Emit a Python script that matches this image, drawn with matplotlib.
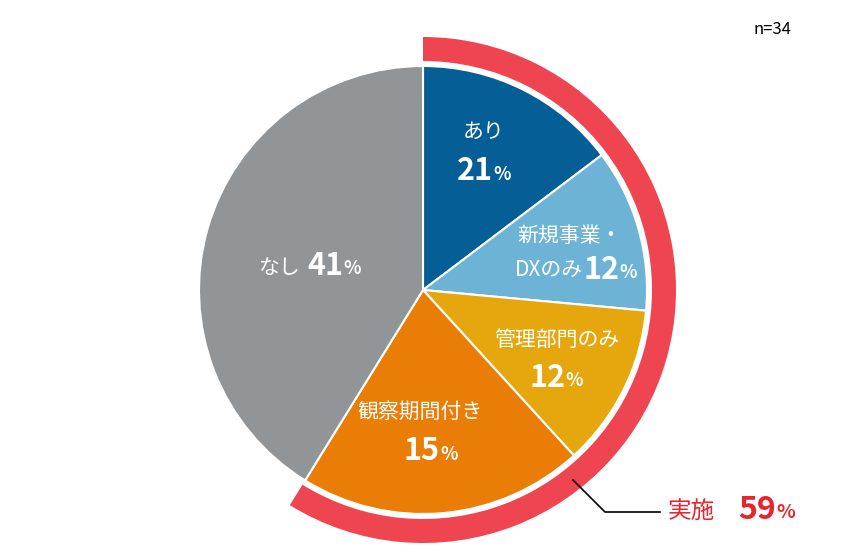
import matplotlib.pyplot as plt
from matplotlib.patches import Wedge

plt.rcParams['font.family'] = 'Noto Sans CJK JP'

categories = ['あり', '新規事業・DXのみ', '管理部門のみ', '観察期間付き', 'なし']
slice_sizes = [5, 4, 4, 7, 14]  # slice areas as drawn in the reference
percents = [21, 12, 12, 15, 41]
colors = ['#065E96', '#6DB3D6', '#E5A70D', '#E97D06', '#919598']
implemented_pct = 59
n_total = 34

W, H = 846, 560
fig = plt.figure(figsize=(W / 100, H / 100), dpi=100)
ax = fig.add_axes([0, 0, 1, 1])

cx, cy, r = 423, H - 290, 224
ax.pie(slice_sizes, colors=colors, startangle=90, counterclock=False,
       center=(cx, cy), radius=r, frame=True,
       wedgeprops=dict(edgecolor='white', linewidth=1.5))
ax.set_xlim(0, W)
ax.set_ylim(0, H)
ax.set_aspect('equal')
ax.axis('off')

# outer ring for 実施
span = 360 * sum(slice_sizes[:4]) / sum(slice_sizes)
ax.add_patch(Wedge((cx, cy), 253, 90 - span, 90, width=24, facecolor='#EF4550', edgecolor='none'))


def pct_label(x, y, num, color='white', size=22, psize=13):
    ax.text(x, y, str(num), ha='right', va='center', fontsize=size, fontweight='bold', color=color)
    ax.text(x, y - 3, '%', ha='left', va='center', fontsize=psize, fontweight='bold', color=color)


def Y(py):
    return H - py

ax.text(484, Y(132), 'あり', ha='center', va='center', fontsize=15, color='white')
pct_label(493, Y(171), percents[0])
ax.text(570, Y(236), '新規事業・', ha='center', va='center', fontsize=15, color='white')
ax.text(583, Y(270), 'DXのみ', ha='right', va='center', fontsize=15, color='white')
pct_label(619, Y(270), percents[1])
ax.text(557, Y(340), '管理部門のみ', ha='center', va='center', fontsize=15, color='white')
pct_label(565, Y(378), percents[2])
ax.text(420, Y(412), '観察期間付き', ha='center', va='center', fontsize=15, color='white')
pct_label(440, Y(451), percents[3])
ax.text(300, Y(268), 'なし', ha='right', va='center', fontsize=15, color='white')
pct_label(343, Y(266), percents[4])

ax.text(772, Y(30), f'n={n_total}', ha='center', va='center', fontsize=12, color='black')

# leader line
ax.plot([573, 605, 660], [Y(480), Y(512), Y(512)], color='black', lw=1.2)
ax.text(668, Y(512), '実施', ha='left', va='center', fontsize=17, color='#E8242C')
pct_label(776, Y(510), implemented_pct, color='#E8242C', size=23, psize=14)

fig.savefig('out.png', dpi=100)
